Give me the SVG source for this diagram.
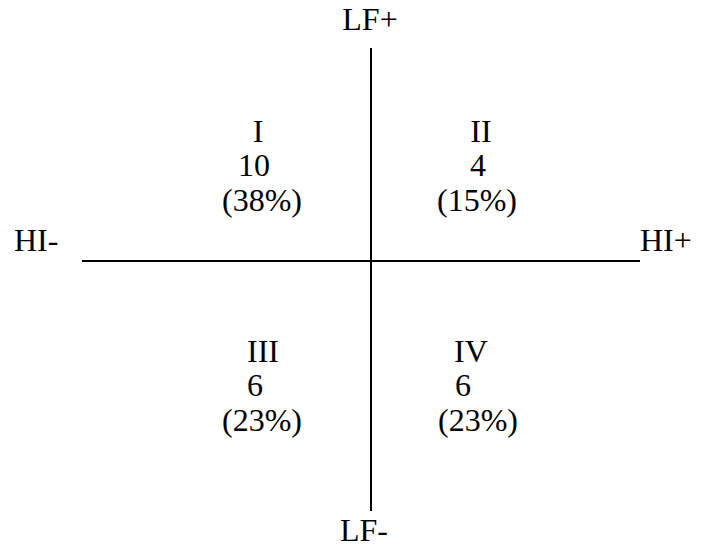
<svg xmlns="http://www.w3.org/2000/svg" width="706" height="548" viewBox="0 0 706 548">
<style>
text{font-size:32px;fill:#000}
.ax{stroke:#000;stroke-width:2;fill:none}
</style>
<rect width="706" height="548" fill="#fff"/>
<g id="connectors">
<line class="ax" x1="371" y1="48" x2="371" y2="511"/>
<line class="ax" x1="82" y1="261" x2="640" y2="261"/>
</g>
<g font-family="Liberation Serif, DejaVu Serif, serif">
<g id="axis-labels">
<text x="370" y="30" text-anchor="middle">LF+</text>
<text x="364" y="541" text-anchor="middle">LF-</text>
<text x="14" y="251">HI-</text>
<text x="640" y="251">HI+</text>
</g>
<g id="q1">
<text x="258" y="142" text-anchor="middle">I</text>
<text x="254" y="176" text-anchor="middle">10</text>
<text x="262" y="211" text-anchor="middle">(38%)</text>
</g>
<g id="q2">
<text x="481" y="142" text-anchor="middle">II</text>
<text x="478" y="176" text-anchor="middle">4</text>
<text x="477" y="211" text-anchor="middle">(15%)</text>
</g>
<g id="q3">
<text x="263" y="362" text-anchor="middle">III</text>
<text x="255" y="396" text-anchor="middle">6</text>
<text x="262" y="431" text-anchor="middle">(23%)</text>
</g>
<g id="q4">
<text x="471" y="362" text-anchor="middle">IV</text>
<text x="463" y="396" text-anchor="middle">6</text>
<text x="478" y="431" text-anchor="middle">(23%)</text>
</g>
</g>
</svg>
